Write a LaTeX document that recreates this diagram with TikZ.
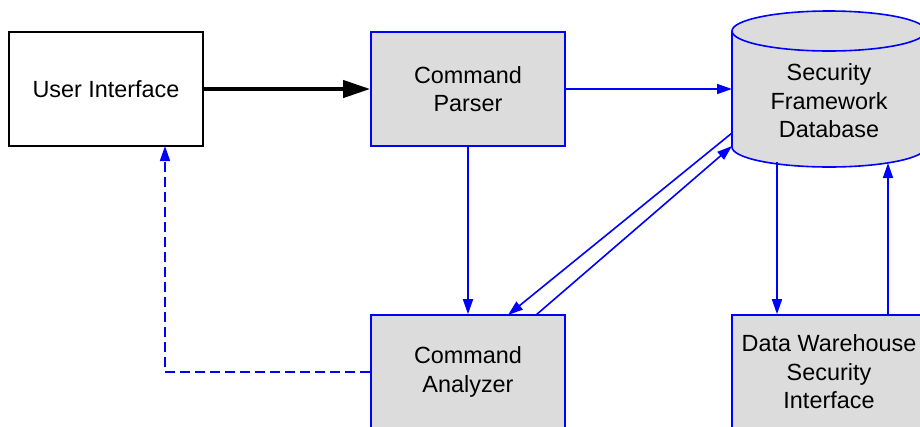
\documentclass[tikz,border=0pt]{standalone}
\usepackage{fontspec}
\setmainfont{Liberation Sans}
\usetikzlibrary{arrows.meta}
\definecolor{boxgray}{HTML}{DCDCDC}
\begin{document}
\begin{tikzpicture}[x=1bp,y=-1bp,
  label font/.style={font=\fontsize{23.4bp}{28.5bp}\selectfont},
  box/.style={label font, align=center, inner sep=0pt,
    minimum width=194bp, minimum height=114bp},
  plainbox/.style={box, draw=black, fill=white, line width=1.6bp},
  procbox/.style={box, draw=blue, fill=boxgray, line width=1.6bp},
  flow/.style={draw=blue, line width=1.6bp,
    -{Triangle[length=15bp,width=10bp]}},
  mainflow/.style={draw=black, line width=4bp,
    -{Triangle[length=27bp,width=17bp]}},
  backflow/.style={flow, dash pattern=on 10bp off 5bp}]

\useasboundingbox (0,0) rectangle (920,426);
\clip (0,0) rectangle (920,426);

% process boxes
\node[plainbox] (ui) at (106,89) {User Interface};
\node[procbox] (parser) at (468,89) {Command\\Parser};
\node[procbox] (analyzer) at (468,372) {Command\\Analyzer};
\node[procbox] (dw) at (829,372) {Data Warehouse\\Security\\Interface};

% database cylinder
\fill[boxgray] (732,31) -- (732,147)
  arc[start angle=180, end angle=360, x radius=97bp, y radius=20bp]
  -- (926,31)
  arc[start angle=0, end angle=180, x radius=97bp, y radius=20bp] -- cycle;
\draw[blue, line width=1.6bp] (732,31) -- (732,147)
  arc[start angle=180, end angle=360, x radius=97bp, y radius=20bp]
  -- (926,31)
  arc[start angle=0, end angle=180, x radius=97bp, y radius=20bp]
  arc[start angle=180, end angle=360, x radius=97bp, y radius=20bp];
\node[label font, align=center] (db) at (829,101) {Security\\Framework\\Database};

% attachment points on the cylinder, the analyzer and the user interface
\coordinate (dbParser) at (732,89);
\coordinate (dbOut) at (732,133);
\coordinate (dbIn) at (732,146);
\coordinate (dbDown) at (777,162);
\coordinate (dbUp) at (888,163);
\coordinate (caIn) at (508,315);
\coordinate (caOut) at (536,315);
\coordinate (uiIn) at (165,146);

% connectors
\draw[mainflow] (ui.east) -- (parser.west);
\draw[flow] (parser.east) -- (dbParser);
\draw[flow] (parser.south) -- (analyzer.north);
\draw[flow] (dbOut) -- (caIn);
\draw[flow] (caOut) -- (dbIn);
\draw[flow] (dbDown) -- (dbDown |- dw.north);
\draw[flow] (dbUp |- dw.north) -- (dbUp);
\draw[backflow] (analyzer.west) -| (uiIn);
\end{tikzpicture}
\end{document}
